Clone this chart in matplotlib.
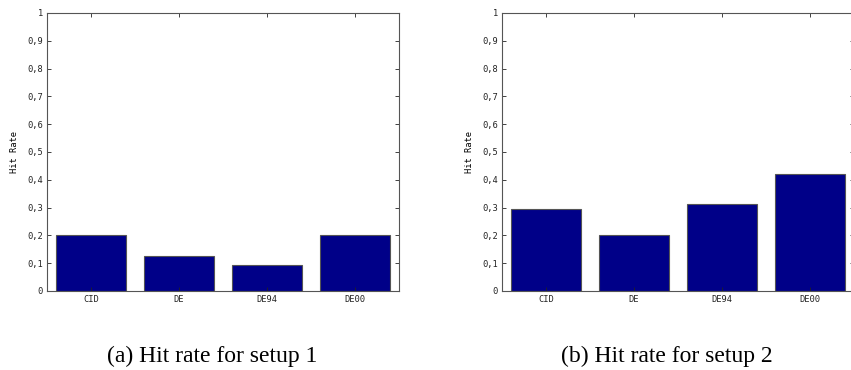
import matplotlib
matplotlib.use("Agg")
import matplotlib.pyplot as plt
import numpy as np

categories = ["CID", "DE", "DE94", "DE00"]
setup1 = [0.20, 0.125, 0.093, 0.20]
setup2 = [0.295, 0.20, 0.312, 0.42]
yticks = [0, 0.1, 0.2, 0.3, 0.4, 0.5, 0.6, 0.7, 0.8, 0.9, 1]
ytick_labels = ["0", "0,1", "0,2", "0,3", "0,4", "0,5", "0,6", "0,7", "0,8", "0,9", "1"]
captions = ["(a) Hit rate for setup 1", "(b) Hit rate for setup 2"]

fig = plt.figure(figsize=(8.51, 3.70), dpi=100)
W, H = 851, 370
axes_px = [(47, 13, 352, 278), (502, 13, 352, 278)]
cap_x = [212, 667]

mono = "DejaVu Sans Mono"
fs = 6.3
for (x0, y0, w, h), vals, cap, cx in zip(axes_px, [setup1, setup2], captions, cap_x):
    ax = fig.add_axes([x0 / W, (H - y0 - h) / H, w / W, h / H])
    pos = np.arange(1, len(categories) + 1)
    ax.bar(pos, vals, width=0.8, color="#000088", edgecolor="#555555", linewidth=0.8)
    ax.set_xlim(0.5, 4.5)
    ax.set_ylim(0, 1)
    ax.set_xticks(pos)
    ax.set_xticklabels(categories, fontsize=fs, family=mono)
    ax.set_yticks(yticks)
    ax.set_yticklabels(ytick_labels, fontsize=fs, family=mono)
    ax.tick_params(direction="in", length=3, width=0.6, top=True, right=True, pad=3, colors="#222222")
    for s in ax.spines.values():
        s.set_color("#555555")
        s.set_linewidth(0.8)
    ax.set_ylabel("Hit Rate", fontsize=fs, family=mono, labelpad=6)
    fig.text(cx / W, 1 - 362 / H, cap, ha="center", va="baseline",
             fontsize=17, family="Liberation Serif")

fig.savefig("out.png", dpi=100)
